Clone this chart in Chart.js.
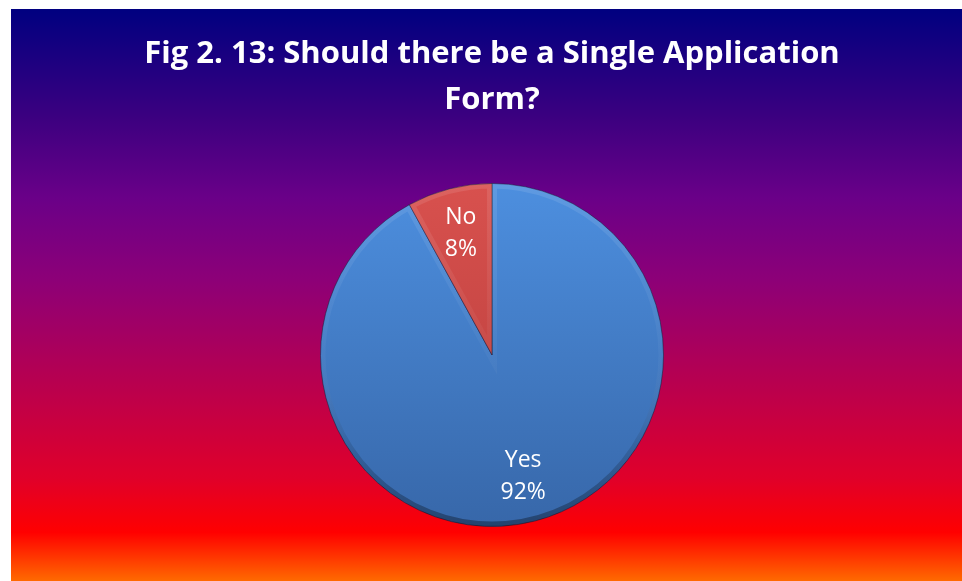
<!DOCTYPE html>
<html>
<head>
<meta charset="utf-8">
<script src="https://cdn.jsdelivr.net/npm/chart.js@4.4.1/dist/chart.umd.min.js"></script>
<style>
  html, body { margin: 0; padding: 0; background: #ffffff; }
  #wrap { position: absolute; left: 11px; top: 9px; width: 951px; height: 572px; }
</style>
</head>
<body>
<div id="wrap"><canvas id="pieChart"></canvas></div>
<script>
// survey answers (percent of respondents)
const titleLines = ['Fig 2. 13: Should there be a Single Application', 'Form?'];
const answers = ['Yes', 'No'];
const shares = [92, 8];
// top / bottom shade of each slice
const sliceShades = [['#4d8fdf', '#3767a9'], ['#d8514e', '#b43b39']];

// navy -> purple -> magenta -> red -> orange backdrop
const backdrop = {
  id: 'backdrop',
  beforeDraw(chart) {
    const { ctx, width, height } = chart;
    const g = ctx.createLinearGradient(0, 0, 0, height);
    g.addColorStop(0, '#000080');
    g.addColorStop(0.19, '#3c0080');
    g.addColorStop(0.33, '#6a0088');
    g.addColorStop(0.47, '#8c0078');
    g.addColorStop(0.82, '#e0002a');
    g.addColorStop(0.915, '#ff0000');
    g.addColorStop(1, '#ff6a00');
    ctx.save();
    ctx.fillStyle = g;
    ctx.fillRect(0, 0, width, height);
    ctx.restore();
  }
};

function slicePath(ctx, a) {
  ctx.beginPath();
  ctx.moveTo(a.x, a.y);
  ctx.arc(a.x, a.y, a.outerRadius, a.startAngle, a.endAngle);
  ctx.closePath();
}

// soft bevel along the slice edges
const bevel = {
  id: 'bevel',
  afterDatasetsDraw(chart) {
    const { ctx } = chart;
    chart.getDatasetMeta(0).data.forEach(arc => {
      const a = arc.getProps(['x', 'y', 'startAngle', 'endAngle', 'outerRadius']);
      ctx.save();
      slicePath(ctx, a);
      ctx.clip();
      const g = ctx.createLinearGradient(0, a.y - a.outerRadius, 0, a.y + a.outerRadius);
      g.addColorStop(0, 'rgba(255,255,255,0.10)');
      g.addColorStop(0.5, 'rgba(255,255,255,0.03)');
      g.addColorStop(0.75, 'rgba(0,0,0,0.10)');
      g.addColorStop(1, 'rgba(0,0,0,0.35)');
      slicePath(ctx, a);
      ctx.lineWidth = 10;
      ctx.strokeStyle = g;
      ctx.stroke();
      ctx.restore();
    });
  }
};

// category name and percentage inside each slice
const sliceLabels = {
  id: 'sliceLabels',
  afterDatasetsDraw(chart) {
    const { ctx } = chart;
    const values = chart.data.datasets[0].data;
    chart.getDatasetMeta(0).data.forEach((arc, i) => {
      const a = arc.getProps(['x', 'y', 'startAngle', 'endAngle', 'outerRadius']);
      const mid = (a.startAngle + a.endAngle) / 2;
      const r = a.outerRadius * 0.73;
      const x = a.x + Math.cos(mid) * r;
      const y = a.y + Math.sin(mid) * r;
      ctx.save();
      ctx.fillStyle = '#ffffff';
      ctx.font = '23px "Open Sans"';
      ctx.textAlign = 'center';
      ctx.textBaseline = 'middle';
      ctx.fillText(chart.data.labels[i], x, y - 16);
      ctx.fillText(values[i] + '%', x, y + 16);
      ctx.restore();
    });
  }
};

new Chart(document.getElementById('pieChart'), {
  type: 'pie',
  data: {
    labels: answers,
    datasets: [{
      data: shares,
      backgroundColor(context) {
        const area = context.chart.chartArea;
        if (!area) return sliceShades[context.dataIndex][0];
        const g = context.chart.ctx.createLinearGradient(0, area.top, 0, area.bottom);
        g.addColorStop(0, sliceShades[context.dataIndex][0]);
        g.addColorStop(1, sliceShades[context.dataIndex][1]);
        return g;
      },
      borderColor: 'rgba(20,30,60,0.55)',
      borderWidth: 1
    }]
  },
  options: {
    responsive: true,
    maintainAspectRatio: false,
    animation: false,
    layout: { padding: { left: 11, right: 0, top: 0, bottom: 54 } },
    plugins: {
      legend: { display: false },
      tooltip: { enabled: false },
      title: {
        display: true,
        text: titleLines,
        color: '#ffffff',
        font: { family: '"Open Sans"', size: 31, weight: 'bold', lineHeight: '46px' },
        padding: { top: 22, bottom: 60 }
      }
    }
  },
  plugins: [backdrop, bevel, sliceLabels]
});
</script>
</body>
</html>
